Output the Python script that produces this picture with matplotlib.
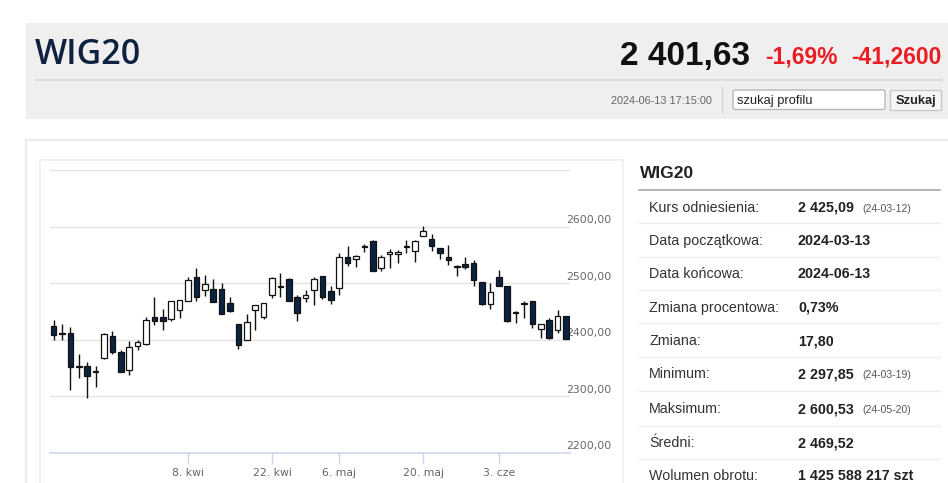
import numpy as np
import pandas as pd
import matplotlib
matplotlib.use("Agg")
import matplotlib.pyplot as plt
from matplotlib.patches import Rectangle, FancyBboxPatch
from matplotlib.transforms import blended_transform_factory

# --- dane notowan WIG20 (O, H, L, C) ---
opens = [2423.6, 2411.8, 2411.8, 2353.0, 2353.0, 2343.0, 2367.7, 2405.9, 2378.3, 2345.9,
         2388.3, 2391.8, 2440.1, 2439.5, 2436.5, 2453.0, 2468.9, 2510.7, 2488.3, 2490.1,
         2490.0, 2464.8, 2427.7, 2400.0, 2451.8, 2440.1, 2478.3, 2493.0, 2507.7, 2476.5,
         2473.6, 2488.3, 2513.0, 2487.1, 2492.4, 2547.1, 2542.4, 2563.6, 2574.8, 2526.5,
         2551.2, 2551.8, 2563.6, 2557.1, 2583.6, 2577.7, 2561.8, 2545.9, 2529.5, 2534.2,
         2535.3, 2501.8, 2463.6, 2510.7, 2494.2, 2447.1, 2463.6, 2468.9, 2419.5, 2435.3,
         2417.7, 2441.2]
highs = [2435.3, 2427.7, 2421.8, 2375.3, 2360.7, 2353.0, 2412.0, 2415.9, 2382.4, 2397.1,
         2400.0, 2440.0, 2474.8, 2454.2, 2469.0, 2471.0, 2511.8, 2527.7, 2514.8, 2507.7,
         2500.1, 2476.5, 2428.0, 2445.9, 2461.0, 2465.0, 2511.8, 2517.7, 2509.0, 2479.5,
         2488.3, 2511.8, 2513.5, 2494.2, 2553.0, 2565.9, 2549.0, 2569.5, 2576.5, 2550.1,
         2560.7, 2559.0, 2576.5, 2576.5, 2600.5, 2587.1, 2562.0, 2567.7, 2532.4, 2547.1,
         2541.2, 2502.0, 2500.1, 2523.6, 2494.5, 2450.1, 2467.7, 2469.0, 2428.5, 2438.3,
         2451.8, 2442.4]
lows = [2400.0, 2400.0, 2311.8, 2332.4, 2297.9, 2315.9, 2366.0, 2374.7, 2343.0, 2338.3,
        2381.2, 2391.0, 2426.5, 2417.7, 2432.4, 2438.3, 2468.0, 2467.7, 2477.7, 2466.0,
        2445.0, 2448.9, 2384.2, 2399.0, 2417.7, 2436.5, 2474.7, 2475.3, 2468.0, 2432.4,
        2466.5, 2460.7, 2471.8, 2463.6, 2479.5, 2530.6, 2529.5, 2555.9, 2522.0, 2522.4,
        2526.5, 2535.3, 2553.0, 2538.3, 2583.0, 2557.7, 2542.4, 2532.4, 2513.6, 2524.8,
        2495.3, 2461.8, 2454.8, 2495.0, 2432.0, 2429.5, 2438.3, 2420.7, 2403.0, 2401.2,
        2411.8, 2401.0]
closes = [2408.9, 2411.0, 2351.8, 2352.5, 2336.5, 2343.5, 2410.7, 2377.7, 2343.6, 2386.5,
          2395.9, 2435.3, 2433.6, 2433.6, 2468.9, 2470.7, 2505.9, 2475.3, 2498.3, 2466.5,
          2445.3, 2451.2, 2391.2, 2431.2, 2460.7, 2464.8, 2508.9, 2493.5, 2468.9, 2447.1,
          2479.5, 2507.7, 2474.8, 2469.5, 2545.9, 2535.3, 2548.9, 2564.0, 2522.4, 2545.9,
          2555.9, 2555.3, 2564.0, 2574.8, 2593.0, 2565.9, 2553.0, 2541.2, 2529.0, 2529.5,
          2505.9, 2463.6, 2485.3, 2495.3, 2432.4, 2447.5, 2464.0, 2428.3, 2428.3, 2403.0,
          2442.4, 2401.6]

holidays = ["2024-03-29", "2024-04-01", "2024-05-01", "2024-05-03", "2024-05-30"]
dates = [d for d in pd.bdate_range("2024-03-13", "2024-06-13") if d.strftime("%Y-%m-%d") not in holidays]

tick_dates = ["2024-04-08", "2024-04-22", "2024-05-06", "2024-05-20", "2024-06-03"]
tick_labels = ["8. kwi", "22. kwi", "6. maj", "20. maj", "3. cze"]
y_levels = [2200, 2300, 2400, 2500, 2600, 2700]
y_labels = ["2200,00", "2300,00", "2400,00", "2500,00", "2600,00"]

# --- tabela po prawej ---
row_labels = ["Kurs odniesienia:", "Data początkowa:", "Data końcowa:", "Zmiana procentowa:",
              "Zmiana:", "Minimum:", "Maksimum:", "Średni:", "Wolumen obrotu:"]
row_values = ["2 425,09", "2024-03-13", "2024-06-13", "0,73%", "17,80",
              "2 297,85", "2 600,53", "2 469,52", "1 425 588 217 szt"]
row_notes = ["(24-03-12)", "", "", "", "", "(24-03-19)", "(24-05-20)", "", ""]

W, H = 948, 483
fig = plt.figure(figsize=(W / 100, H / 100), dpi=100)
fig.patch.set_facecolor("white")
ARIAL = ["Liberation Sans", "DejaVu Sans"]


def box(x0, y0, x1, y1, fc, ec="none", lw=1.0, z=0):
    r = Rectangle((x0 / W, 1 - y1 / H), (x1 - x0) / W, (y1 - y0) / H,
                  transform=fig.transFigure, fc=fc, ec=ec, lw=lw, zorder=z)
    fig.add_artist(r)


def hline(x0, x1, y, color, lw=1.0):
    fig.add_artist(plt.Line2D([x0 / W, x1 / W], [1 - y / H, 1 - y / H],
                              transform=fig.transFigure, color=color, lw=lw))


def txt(x, y, s, **kw):
    kw.setdefault("va", "baseline")
    kw.setdefault("family", ARIAL)
    fig.text(x / W, 1 - y / H, s, **kw)


# naglowek
box(26, 23, 960, 119, "#efefef")
hline(36, 942, 79.5, "#d8d8d8", 1.2)
txt(35, 64.5, "WIG20", fontsize=24.5, fontweight="semibold", color="#0d2240",
    family=["Open Sans", "DejaVu Sans"])
txt(750, 65, "2 401,63", fontsize=24, fontweight="bold", color="#111111", ha="right")
txt(765, 63.5, "-1,69%", fontsize=16.5, fontweight="bold", color="#ec1c24")
txt(851, 63.5, "-41,2600", fontsize=16.5, fontweight="bold", color="#ec1c24")
txt(712, 104, "2024-06-13 17:15:00", fontsize=7.8, color="#666666", ha="right")
fig.add_artist(plt.Line2D([722 / W, 722 / W], [1 - 87 / H, 1 - 112 / H],
                          transform=fig.transFigure, color="#d6d6d6", lw=1))
fig.add_artist(FancyBboxPatch((733 / W, 1 - 109.5 / H), 152 / W, 19.5 / H,
                              boxstyle="round,pad=0,rounding_size=0.003",
                              transform=fig.transFigure, fc="white", ec="#b8b8b8", lw=1))
txt(737, 104, "szukaj profilu", fontsize=9.3, color="#222222")
box(890, 89.5, 941, 110, "#f5f5f5", "#c8c8c8", 1)
txt(915.5, 104, "Szukaj", fontsize=9.3, fontweight="bold", color="#222222", ha="center")

# panele
box(26, 140, 970, 500, "white", "#ebebeb", 1.6)
box(40, 160, 623, 500, "white", "#f0f0f0", 1.2)

# tabela
txt(640, 178, "WIG20", fontsize=12.5, fontweight="bold", color="#222222")
hline(639, 940, 189.5, "#a8a8a8", 1.2)
row_y = [206.7, 240, 273.3, 306.7, 340, 373.3, 408.3, 442.3, 475]
sep_y = [223.3, 257.3, 290, 323, 356.7, 390.7, 426, 459.3]
for y in sep_y:
    hline(639, 940, y, "#eeeeee", 1.0)
for y, lab, val, note in zip(row_y, row_labels, row_values, row_notes):
    txt(649, y + 5, lab, fontsize=10.3, color="#333333")
    txt(798, y + 5, val, fontsize=10.3, fontweight="bold", color="#222222")
    if note:
        txt(862, y + 5, note, fontsize=7.5, color="#555555")

# wykres swiecowy
ax = fig.add_axes([50 / W, 1 - 453 / H, 520 / W, 283 / H])
ax.patch.set_alpha(0)
idx = np.arange(len(opens))
o = np.array(opens)
c = np.array(closes)
hi = np.array(highs)
lo = np.array(lows)
up = c >= o
ax.vlines(idx, lo, hi, color="#111111", lw=1.0, zorder=2)
bottoms = np.minimum(o, c)
heights = np.maximum(np.abs(c - o), 1.6)
colors = np.where(up, "white", "#0c2340")
ax.bar(idx, heights, bottom=bottoms, width=0.68, color=colors, edgecolor="#111111",
       linewidth=0.9, zorder=3)

ax.set_xlim(-0.43, len(opens) - 0.52)
ax.set_ylim(2200, 2700)
ax.set_yticks(y_levels)
ax.tick_params(axis="y", length=0, labelleft=False)
ax.grid(axis="y", color="#e3e3e3", lw=1.0)
ax.set_axisbelow(True)
for s in ["top", "right", "left"]:
    ax.spines[s].set_visible(False)
ax.spines["bottom"].set_color("#ccd6eb")
ax.spines["bottom"].set_linewidth(1.2)

date_str = [d.strftime("%Y-%m-%d") for d in dates]
tick_pos = [date_str.index(d) for d in tick_dates]
ax.set_xticks(tick_pos)
ax.set_xticklabels(tick_labels, fontsize=7.8, color="#666666", family=["DejaVu Sans"])
ax.tick_params(axis="x", length=8, width=1, color="#ccd6eb", pad=3)

trans = blended_transform_factory(ax.transAxes, ax.transData)
for v, lab in zip(y_levels[:-1], y_labels):
    ax.text(0.993, v + 3, lab, transform=trans, fontsize=7.8, color="#666666",
            family=["DejaVu Sans"], va="bottom", ha="left", clip_on=False, zorder=1)

fig.savefig("out.png", dpi=100)
